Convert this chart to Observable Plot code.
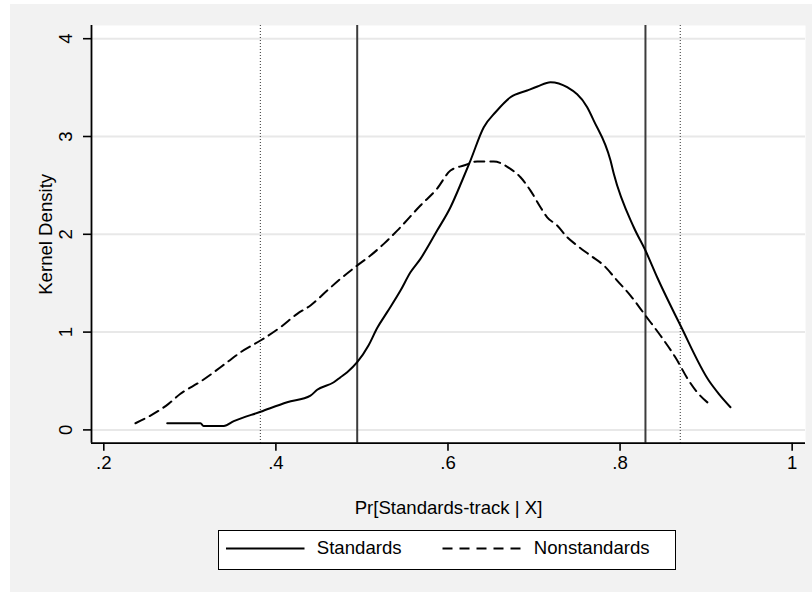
<!DOCTYPE html>
<html>
<head>
<meta charset="utf-8">
<script src="https://cdn.jsdelivr.net/npm/d3@7"></script>
<script src="https://cdn.jsdelivr.net/npm/@observablehq/plot@0.6"></script>
<style>
  html, body { margin: 0; padding: 0; background: #ffffff; }
  body { width: 812px; height: 592px; position: relative; overflow: hidden;
         font-family: "Liberation Sans", Arial, Helvetica, sans-serif; }
  #bg { position: absolute; left: 10px; top: 4px; right: 0; bottom: 0; background: #f2f2f2; }
  #chart { position: absolute; left: 0; top: 0; }
  #legend { position: absolute; left: 218px; top: 530px; width: 458px; height: 40px;
            box-sizing: border-box; border: 1.5px solid #000; background: #fff; }
  #legend svg { position: absolute; left: 0; top: 0; }
  #legend .lab { position: absolute; font-size: 18.6px; line-height: 1; color: #000; white-space: nowrap; }
</style>
</head>
<body>
<div id="bg"></div>
<div id="chart"></div>
<div id="legend"></div>
<script>
// ---- data ----
const stdX = [0.2737, 0.3124, 0.3159, 0.3395, 0.3511, 0.3821, 0.4131, 0.4402, 0.4480, 0.4673, 0.4751,
              0.4829, 0.4945, 0.5076, 0.5177, 0.5293, 0.5448, 0.5564, 0.5680, 0.5874, 0.6029, 0.6165,
              0.6261, 0.6416, 0.6552, 0.6726, 0.6920, 0.7040, 0.7191, 0.7385, 0.7618, 0.7694, 0.7889,
              0.7927, 0.8159, 0.8295, 0.8431, 0.8702, 0.9031, 0.9147, 0.9283];
const stdY = [0.068, 0.068, 0.041, 0.041, 0.089, 0.185, 0.283, 0.351, 0.410, 0.487, 0.538,
              0.590, 0.692, 0.863, 1.042, 1.204, 1.425, 1.612, 1.749, 2.038, 2.277, 2.550,
              2.754, 3.095, 3.248, 3.401, 3.470, 3.511, 3.555, 3.504, 3.299, 3.163, 2.754,
              2.618, 2.072, 1.834, 1.561, 1.067, 0.505, 0.369, 0.232];
const nonX = [0.2368, 0.2752, 0.2891, 0.3124, 0.3434, 0.3589, 0.3821, 0.4053, 0.4248, 0.4402, 0.4596,
              0.4751, 0.4945, 0.5099, 0.5254, 0.5410, 0.5680, 0.5874, 0.6029, 0.6184, 0.6339, 0.6532,
              0.6726, 0.6843, 0.6959, 0.7075, 0.7153, 0.7269, 0.7385, 0.7501, 0.7656, 0.7811, 0.7966,
              0.8121, 0.8295, 0.8469, 0.8644, 0.8798, 0.8896, 0.9050];
const nonY = [0.068, 0.266, 0.369, 0.494, 0.692, 0.794, 0.914, 1.050, 1.187, 1.272, 1.425,
              1.545, 1.681, 1.783, 1.902, 2.038, 2.294, 2.468, 2.652, 2.703, 2.744, 2.744,
              2.669, 2.583, 2.447, 2.277, 2.174, 2.090, 1.970, 1.885, 1.783, 1.681, 1.527,
              1.374, 1.169, 0.965, 0.740, 0.505, 0.385, 0.256];
const seriesNames = ["Standards", "Nonstandards"];
const solidRefs = [0.4945, 0.8295];
const dottedRefs = [0.382, 0.870];
const xTicks = [0.2, 0.4, 0.6, 0.8, 1];
const xTickLabels = [".2", ".4", ".6", ".8", "1"];
const yTicks = [0, 1, 2, 3, 4];
const yTickLabels = ["0", "1", "2", "3", "4"];
const xTitle = "Pr[Standards-track | X]";
const yTitle = "Kernel Density";

// ---- build tables ----
const standards = stdX.map((x, i) => ({x, y: stdY[i]}));
const nonstandards = nonX.map((x, i) => ({x, y: nonY[i]}));
const xTickData = xTicks.map((v, i) => ({v, label: xTickLabels[i]}));
const yTickData = yTicks.map((v, i) => ({v, label: yTickLabels[i]}));

const FONT = "'Liberation Sans', Arial, Helvetica, sans-serif";
const FS = 18.6;
const xDomain = [0.1857, 1.0155];
const yDomain = [-0.136, 4.135];

const plot = Plot.plot({
  width: 812,
  height: 592,
  marginLeft: 91,
  marginRight: 7,
  marginTop: 25,
  marginBottom: 149.3,
  style: {background: "transparent", fontFamily: FONT, fontSize: FS + "px", color: "#000", overflow: "visible"},
  x: {domain: xDomain},
  y: {domain: yDomain},
  marks: [
    Plot.frame({fill: "#ffffff", stroke: "none"}),
    Plot.gridY(yTicks, {stroke: "#e8e8e8", strokeOpacity: 1, strokeWidth: 2}),
    Plot.ruleX(dottedRefs, {stroke: "#555555", strokeWidth: 1.2, strokeDasharray: "1,2"}),
    Plot.ruleX(solidRefs, {stroke: "#3c3c3c", strokeWidth: 2}),
    Plot.line(nonstandards, {x: "x", y: "y", stroke: "#000", strokeWidth: 2, strokeDasharray: "10,6", curve: "monotone-x"}),
    Plot.line(standards, {x: "x", y: "y", stroke: "#000", strokeWidth: 2, curve: "monotone-x"}),
    Plot.ruleX([xDomain[0]], {stroke: "#000", strokeWidth: 1.8}),
    Plot.ruleY([yDomain[0]], {stroke: "#000", strokeWidth: 1.8}),
    Plot.axisX({ticks: xTicks, tickSize: 8, tickFormat: () => "", stroke: "#000", strokeWidth: 1.6}),
    Plot.axisY({ticks: yTicks, tickSize: 8, tickFormat: () => "", stroke: "#000", strokeWidth: 1.6}),
    Plot.text(xTickData, {x: "v", text: "label", frameAnchor: "bottom", dy: 25.6, lineAnchor: "bottom",
                          textAnchor: "middle", fontSize: FS, fill: "#000"}),
    Plot.text(yTickData, {y: "v", text: "label", frameAnchor: "left", dx: -19.3, rotate: -90, lineAnchor: "bottom",
                          textAnchor: "middle", fontSize: FS, fill: "#000"}),
    Plot.text([xTitle], {text: d => d, frameAnchor: "bottom", dy: 70.6, lineAnchor: "bottom",
                         textAnchor: "middle", fontSize: FS, fill: "#000"}),
    Plot.text([yTitle], {text: d => d, frameAnchor: "left", dx: -40, rotate: -90, lineAnchor: "bottom",
                         textAnchor: "middle", fontSize: FS, fill: "#000"})
  ]
});
document.getElementById("chart").appendChild(plot);

// ---- legend ----
const legend = document.getElementById("legend");
const ns = "http://www.w3.org/2000/svg";
const lsvg = document.createElementNS(ns, "svg");
lsvg.setAttribute("width", "456");
lsvg.setAttribute("height", "38");
const samples = [{x1: 7, x2: 85.5, dash: null}, {x1: 223.5, x2: 302, dash: "10,7"}];
samples.forEach(s => {
  const l = document.createElementNS(ns, "line");
  l.setAttribute("x1", s.x1); l.setAttribute("x2", s.x2);
  l.setAttribute("y1", 17.5); l.setAttribute("y2", 17.5);
  l.setAttribute("stroke", "#000"); l.setAttribute("stroke-width", "2");
  if (s.dash) l.setAttribute("stroke-dasharray", s.dash);
  lsvg.appendChild(l);
});
legend.appendChild(lsvg);
const labelLeft = [97.8, 314.8];
seriesNames.forEach((name, i) => {
  const sp = document.createElement("span");
  sp.className = "lab";
  sp.textContent = name;
  sp.style.left = labelLeft[i] + "px";
  sp.style.top = "8px";
  legend.appendChild(sp);
});
</script>
</body>
</html>
